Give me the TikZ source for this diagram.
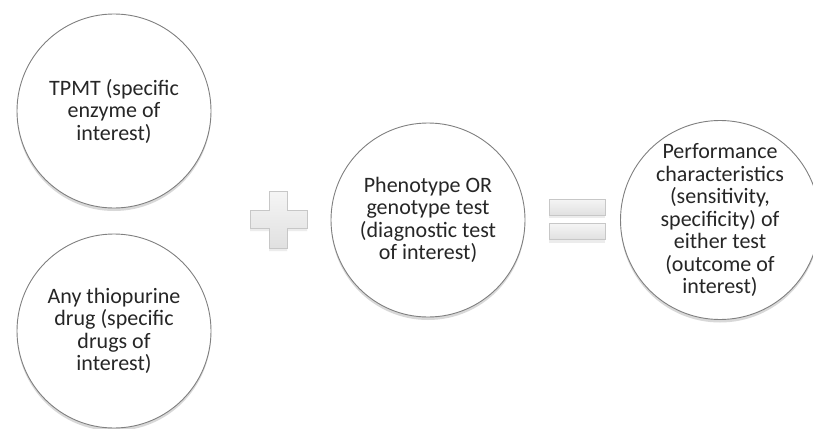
\documentclass[tikz,border=0pt]{standalone}
\usepackage{fontspec}
\setmainfont{Carlito}
\usetikzlibrary{shadows}
\tikzset{
  topic/.style={circle, draw=black!50, line width=0.9pt, fill=white,
    minimum size=194pt, inner sep=0pt, align=center, text=black!85,
    font=\fontsize{22}{22.5}\selectfont,
    drop shadow={shadow xshift=0pt, shadow yshift=-3pt, opacity=0.3}},
  signpart/.style={draw=black!22, line width=0.6pt, top color=black!4, bottom color=black!12,
    drop shadow={shadow xshift=0pt, shadow yshift=-3pt, opacity=0.15}},
  eqbar/.style={signpart, rectangle, minimum width=56pt, minimum height=16pt, inner sep=0pt}
}

\begin{document}
\begin{tikzpicture}[x=1pt,y=-1pt]
    \clip (0,0) rectangle (813,428);
    \fill[white] (0,0) rectangle (813,428);
    % the four circles
    \node[topic] (enzyme) at (114,111) {TPMT (specific\\enzyme of\\interest)};
    \node[topic] (drug) at (114,331) {Any thiopurine\\drug (specific\\drugs of\\interest)};
    \node[topic] (test) at (428,220) {Phenotype OR\\genotype test\\(diagnostic test\\of interest)};
    \node[topic] (outcome) at (720,220) {Performance\\characteristics\\(sensitivity,\\specificity) of\\either test\\(outcome of\\interest)};
    % plus and equals
    \draw[signpart] (269,191) -- (287,191) -- (287,210) -- (307,210) -- (307,228) -- (287,228)
      -- (287,248) -- (269,248) -- (269,228) -- (250,228) -- (250,210) -- (269,210) -- cycle;
    \node[eqbar] (eqtop) at (577,207) {};
    \node[eqbar] (eqbot) at (577,231.5) {};
\end{tikzpicture}
\end{document}
